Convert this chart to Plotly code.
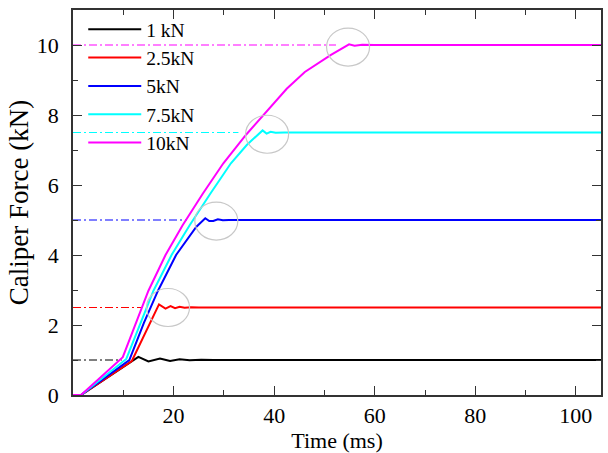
import plotly.graph_objects as go

# ---- data ----
names = ["1 kN", "2.5kN", "5kN", "7.5kN", "10kN"]
colors = ["#000000", "#ff0000", "#0000ff", "#00ffff", "#ff00ff"]

t_1kN = [0, 1.6, 13.0, 15.0, 17.3, 19.3, 21.2, 23.2, 25.5, 28, 35, 50, 70, 90, 105]
f_1kN = [0, 0, 1.09, 0.96, 1.04, 0.97, 1.02, 0.99, 1.01, 1.0, 1.0, 1.0, 1.0, 1.0, 1.0]

t_2k5 = [0, 1.6, 11.7, 14.5, 17.1, 18.4, 19.4, 20.3, 21.2, 22.2, 23.5, 25, 30, 40, 60, 80, 105]
f_2k5 = [0, 0, 0.97, 1.8, 2.59, 2.47, 2.54, 2.48, 2.52, 2.49, 2.51, 2.5, 2.5, 2.5, 2.5, 2.5, 2.5]

t_5kN = [0, 1.6, 11.2, 14.1, 16.9, 20.5, 24.5, 26.3, 27.1, 27.9, 28.8, 29.8, 31, 33, 40, 60, 80, 105]
f_5kN = [0, 0, 1.0, 2.06, 2.98, 4.0, 4.8, 5.05, 4.97, 4.97, 5.02, 4.99, 5.0, 5.0, 5.0, 5.0, 5.0, 5.0]

t_7k5 = [0, 1.6, 10.6, 13.4, 16.0, 19.6, 23.2, 27.3, 31.4, 34.6, 37.7, 38.5, 39.3, 40.3, 42, 50, 60, 80, 105]
f_7k5 = [0, 0, 1.03, 2.06, 2.98, 4.0, 4.85, 5.75, 6.62, 7.15, 7.56, 7.47, 7.52, 7.49, 7.5, 7.5, 7.5, 7.5, 7.5]

t_10k = [0, 1.6, 9.9, 12.5, 15.0, 18.4, 21.8, 25.8, 29.9, 34.5, 38.8, 42.5, 46.1, 51.3, 54.9, 56.0, 57.5, 60, 70, 80, 90, 105]
f_10k = [0, 0, 1.08, 2.06, 2.98, 4.0, 4.85, 5.75, 6.62, 7.45, 8.15, 8.75, 9.23, 9.72, 10.02, 9.98, 10.01, 10.0, 10.0, 10.0, 10.0, 10.0]

series_t = [t_1kN, t_2k5, t_5kN, t_7k5, t_10k]
series_f = [f_1kN, f_2k5, f_5kN, f_7k5, f_10k]

# target reference (dash-dot) lines
ref_level = [1.0, 2.5, 5.0, 7.5, 10.0]
ref_end = [9.7, 13.8, 22.6, 32.9, 52.3]

# grey circles marking the peaks (2.5, 5, 7.5, 10 kN)
circ_t = [18.9, 28.5, 38.6, 54.7]
circ_f = [2.5, 4.97, 7.45, 9.94]

x_ticks = [20, 40, 60, 80, 100]
y_ticks = [0, 2, 4, 6, 8, 10]

FONT = "Liberation Serif, Times New Roman, serif"

fig = go.Figure()

for lvl, end, c in zip(ref_level, ref_end, colors):
    fig.add_trace(go.Scatter(x=[0, end], y=[lvl, lvl], mode="lines",
                             line=dict(color=c, width=1.2, dash="8px,3px,2px,3px"),
                             showlegend=False, hoverinfo="skip"))

for t, f, n, c in zip(series_t, series_f, names, colors):
    fig.add_trace(go.Scatter(x=t, y=f, mode="lines", name=n,
                             line=dict(color=c, width=2)))

for ct, cf in zip(circ_t, circ_f):
    fig.add_shape(type="circle", xref="x", yref="y",
                  xsizemode="pixel", ysizemode="pixel",
                  xanchor=ct, yanchor=cf, x0=-21.5, x1=21.5, y0=-19, y1=19,
                  line=dict(color="#c8c8c8", width=1.2))

axis_common = dict(
    showline=True, linecolor="#333333", linewidth=1.5, mirror="allticks",
    ticks="inside", ticklen=9, tickwidth=1.3, tickcolor="#333333",
    showgrid=False, zeroline=False,
    tickfont=dict(family=FONT, size=22, color="#000000"),
)

fig.update_xaxes(range=[0, 105], tickvals=x_ticks,
                 minor=dict(dtick=10, tick0=0, ticks="inside", ticklen=5, tickcolor="#333333", tickwidth=1.3),
                 title=dict(text="Time (ms)", font=dict(family=FONT, size=22, color="#000000"), standoff=4),
                 **axis_common)
fig.update_yaxes(range=[0, 11], tickvals=y_ticks, ticklabelstandoff=8,
                 minor=dict(dtick=1, tick0=0, ticks="inside", ticklen=5, tickcolor="#333333", tickwidth=1.3),
                 title=dict(text="Caliper Force (kN)", font=dict(family=FONT, size=27, color="#000000"), standoff=0),
                 **axis_common)

fig.update_layout(
    width=608, height=453,
    margin=dict(l=73, r=5, t=10, b=51),
    paper_bgcolor="white", plot_bgcolor="white",
    legend=dict(x=0.0194, y=1.0, xanchor="left", yanchor="top", itemwidth=53,
                bgcolor="rgba(0,0,0,0)", font=dict(family=FONT, size=19.5, color="#000000"),
                tracegroupgap=0),
    showlegend=True,
)

fig.write_html("out.html")
